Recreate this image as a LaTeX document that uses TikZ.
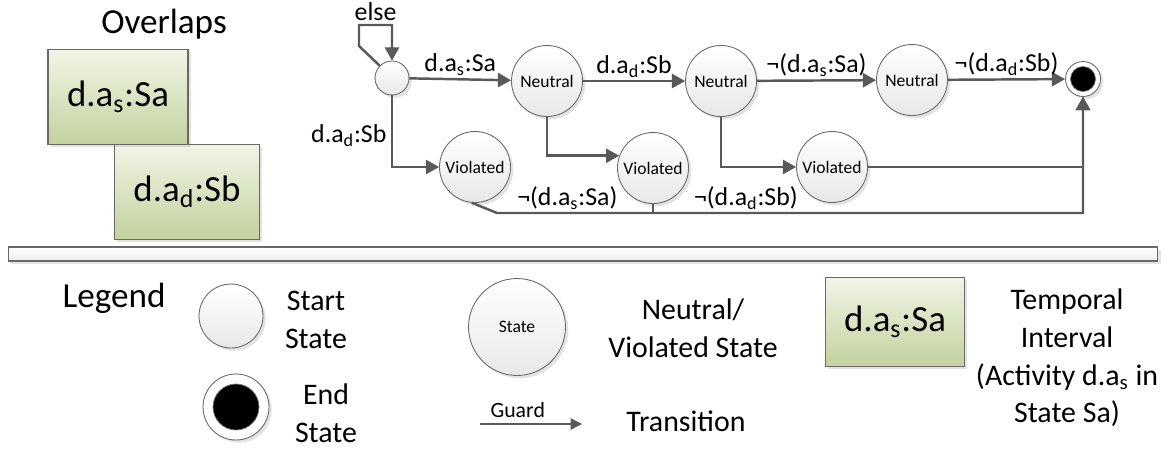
\documentclass[tikz,border=0pt]{standalone}
\usepackage{fontspec}
\setmainfont{Carlito}
\usepackage{tikz}
\usetikzlibrary{arrows.meta}
\usetikzlibrary{shadows}

\definecolor{linegray}{RGB}{89,89,89}
\definecolor{rimgray}{RGB}{105,105,105}
\definecolor{greentop}{RGB}{241,245,230}
\definecolor{greenbot}{RGB}{195,209,158}

\tikzset{
  softshadow/.style={drop shadow={opacity=0.22,shadow xshift=1.6pt,shadow yshift=-1.6pt}},
  state/.style={circle,draw=rimgray,line width=0.5pt,top color=white,bottom color=black!9,
    inner sep=0,minimum size=1.42cm,font=\fontsize{10}{12}\selectfont,softshadow},
  startst/.style={state,minimum size=0.68cm},
  endst/.style={circle,draw=rimgray,line width=0.5pt,fill=white,inner sep=0,minimum size=0.7cm,softshadow},
  endcore/.style={circle,fill=black,draw=black!55,inner sep=0,minimum size=0.5cm},
  interval/.style={rectangle,draw=rimgray,line width=0.6pt,top color=greentop,bottom color=greenbot,
    minimum width=2.8cm,minimum height=1.9cm,font=\fontsize{21}{25}\selectfont,softshadow},
  divider/.style={rectangle,draw=rimgray,line width=0.6pt,top color=white,bottom color=black!7,
    minimum width=23cm,minimum height=0.28cm,inner sep=0,softshadow},
  trans/.style={draw=linegray,line width=1.4pt,-{Triangle[length=7.5pt,width=8pt]}},
  guardarrow/.style={draw=linegray,line width=0.7pt,-{Triangle[length=6.5pt,width=6.5pt]}},
  lbl/.style={font=\fontsize{14.7}{17}\selectfont,inner sep=1.5pt},
  legtxt/.style={font=\fontsize{17}{21.5}\selectfont,align=center},
  title/.style={font=\fontsize{20}{24}\selectfont},
}

\begin{document}
\begin{tikzpicture}[x=0.02cm,y=-0.02cm]
    \useasboundingbox (0,0) rectangle (1169,450);

    % overlap pattern
    \node[title] (overlaps) at (164,24) {Overlaps};
    \node[interval,minimum width=2.9cm] (ivb) at (187,192) {d.a\textsubscript{d}:Sb};
    \node[interval] (iva) at (118,97) {d.a\textsubscript{s}:Sa};

    % automaton
    \node[startst] (s0) at (392,78) {};
    \node[state] (n1) at (547,81) {Neutral};
    \node[state] (n2) at (721,81) {Neutral};
    \node[state] (n3) at (912,80) {Neutral};
    \node[endst] (fin) at (1083,79) {};
    \node[endcore] (fincore) at (fin) {};
    \node[state] (v1) at (475,167) {Violated};
    \node[state] (v2) at (653,168) {Violated};
    \node[state] (v3) at (832,167) {Violated};

    \coordinate (elsea) at (359,46);
    \coordinate (elseb) at (359,25);
    \coordinate (bus) at (497,213);

    \draw[trans] (s0.135) -- (elsea) -- (elseb) -| node[lbl,above,pos=0.25] (elsetxt) {else} (s0.north);
    \draw[trans] (s0) -- node[lbl,above] (g1) {d.a\textsubscript{s}:Sa} (n1);
    \draw[trans] (s0) |- node[lbl,left=1pt,pos=0.28] (g2) {d.a\textsubscript{d}:Sb} (v1);
    \draw[trans] (n1) -- node[lbl,above] (g3) {d.a\textsubscript{d}:Sb} (n2);
    \draw[trans] (n1) |- (v2.160);
    \draw[trans] (n2) -- node[lbl,above] (g4) {¬(d.a\textsubscript{s}:Sa)} (n3);
    \draw[trans] (n2) |- (v3);
    \draw[trans] (n3) -- node[lbl,above] (g5) {¬(d.a\textsubscript{d}:Sb)} (fin);
    \draw[trans] (v3) -| (fin);
    \draw[trans] (v1.265) -- (bus) -| node[lbl,above,pos=0.06] (g6) {¬(d.a\textsubscript{s}:Sa)} (fin);
    \draw[trans] (v2) -- (v2 |- bus) -| node[lbl,above,pos=0.108] (g7) {¬(d.a\textsubscript{d}:Sb)} (fin);

    \node[divider] (bar) at (583,254) {};

    % legend
    \node[title] (legend) at (114,298) {Legend};
    \node[startst,minimum size=1.28cm] (lgstart) at (231,316) {};
    \node[legtxt] (lgstarttxt) at (316,320) {Start\\State};
    \node[endst,minimum size=1.32cm] (lgend) at (236,407) {};
    \node[endcore,minimum size=0.92cm] (lgcore) at (lgend) {};
    \node[legtxt] (lgendtxt) at (326,413) {End\\State};
    \node[state,minimum size=1.94cm] (lgstate) at (517,327) {State};
    \coordinate (gfrom) at (480,424);
    \coordinate (gto) at (582,424);
    \draw[guardarrow] (gfrom) -- node[above,pos=0.37,font=\fontsize{12.4}{14}\selectfont] (guard) {Guard} (gto);
    \node[legtxt] (lgstatetxt) at (693,328) {Neutral/\\Violated State};
    \node[legtxt] (lgtrans) at (686,421) {Transition};
    \node[interval,minimum width=2.78cm,minimum height=1.78cm] (lgbox) at (895,322) {d.a\textsubscript{s}:Sa};
    \node[legtxt] (lgboxtxt) at (1067,358) {Temporal\\Interval\\(Activity d.a\textsubscript{s} in\\State Sa)};
\end{tikzpicture}
\end{document}
